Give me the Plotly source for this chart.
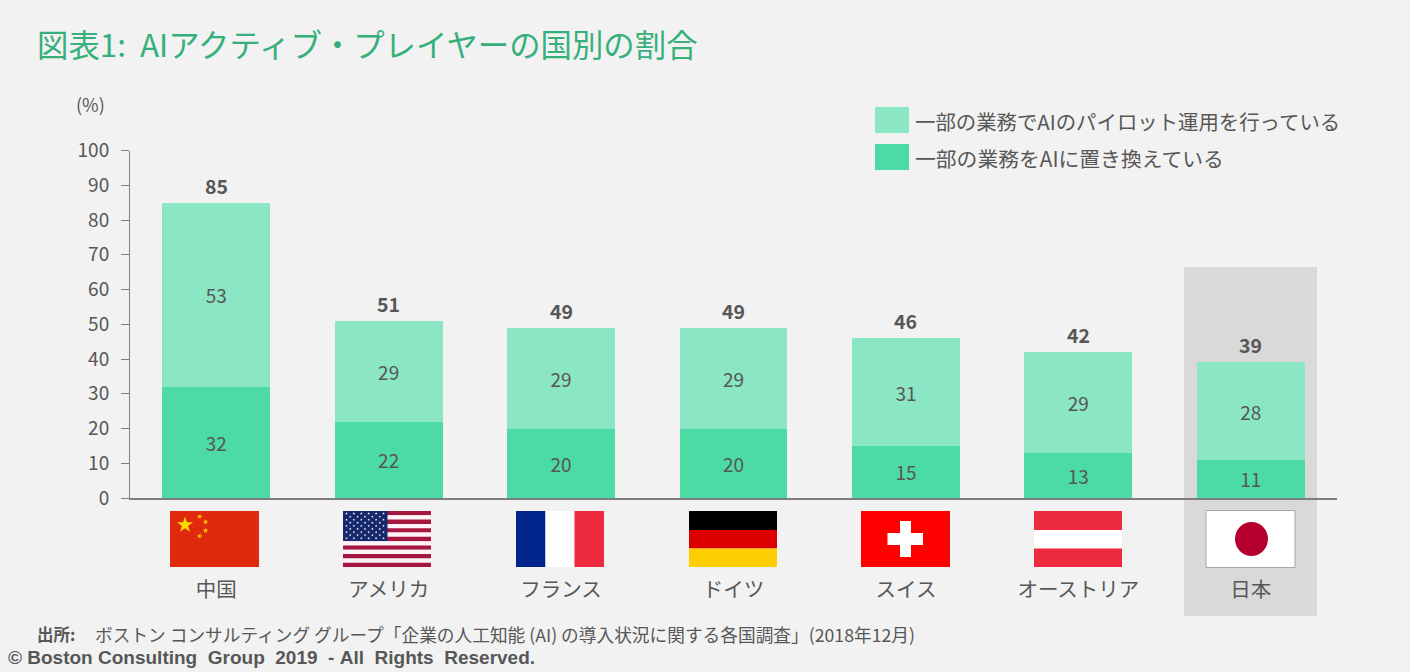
import math
import plotly.graph_objects as go

W, H = 1410, 672
countries = ["中国", "アメリカ", "フランス", "ドイツ", "スイス", "オーストリア", "日本"]
replaced = [32, 22, 20, 20, 15, 13, 11]
pilot = [53, 29, 29, 29, 31, 29, 28]
totals = [85, 51, 49, 49, 46, 42, 39]
y_ticks = [0, 10, 20, 30, 40, 50, 60, 70, 80, 90, 100]
name_pilot = "一部の業務でAIのパイロット運用を行っている"
name_replaced = "一部の業務をAIに置き換えている"
title_text = "図表1:  AIアクティブ・プレイヤーの国別の割合"
source_label = "出所:"
source_text = "ボストン コンサルティング グループ「企業の人工知能 (AI) の導入状況に関する各国調査」(2018年12月)"
copyright_text = "© Boston Consulting\u00a0 Group\u00a0 2019\u00a0 -\u00a0All\u00a0 Rights\u00a0 Reserved."

BG = "#F2F2F2"
DARK = "#4CDAA5"
LIGHT = "#8AE6C3"
TEXT = "#575757"
AXIS = "#7F7F7F"
FONT = "Noto Sans CJK JP"

# plot-area placement, in page pixels
L, R, T, B = 130.0, 1337.0, 150.5, 498.0


def X(px):
    return px / W


def Y(py):
    return 1 - py / H


def rect(x0, y0, x1, y1, color, line=None, layer="above"):
    return dict(type="rect", xref="paper", yref="paper", x0=X(x0), x1=X(x1), y0=Y(y0), y1=Y(y1),
                fillcolor=color, layer=layer,
                line=dict(color=line, width=1) if line else dict(width=0))


def star(cx, cy, r, color, rot=0.0):
    pts = []
    for i in range(10):
        rr = r if i % 2 == 0 else r * 0.382
        a = math.radians(-90 + 36 * i + rot)
        pts.append((X(cx + rr * math.cos(a)), Y(cy + rr * math.sin(a))))
    path = "M" + "L".join(f"{a:.5f},{b:.5f}" for a, b in pts) + "Z"
    return dict(type="path", xref="paper", yref="paper", path=path, fillcolor=color, line=dict(width=0), layer="above")


shapes = [rect(1184, 267, 1317, 616, "#D9D9D9", layer="below")]

# China
shapes.append(rect(170, 511, 259, 567, "#E02A0E"))
shapes.append(star(185, 525, 8.5, "#FFD800"))
for cx, cy, rot in [(199.5, 516.5, 20), (205.5, 522, 45), (205.5, 530.5, 0), (199.5, 536, 20)]:
    shapes.append(star(cx, cy, 3, "#FFC800", rot))

# USA
for i in range(13):
    y0 = 511 + i * 56 / 13
    shapes.append(rect(343, y0, 431, y0 + 56 / 13, "#A6173F" if i % 2 == 0 else "#FDF2F6"))
shapes.append(rect(343, 511, 387.5, 541, "#14286B"))
for row in range(9):
    n = 6 if row % 2 == 0 else 5
    for c in range(n):
        sx = 346.5 + c * 7.4 + (0 if row % 2 == 0 else 3.7)
        sy = 513.5 + row * 3.1
        shapes.append(star(sx, sy, 1.4, "#FFFFFF"))

# France
shapes.append(rect(516, 511, 545.5, 567, "#00268E"))
shapes.append(rect(545.5, 511, 574.5, 567, "#FFFFFF"))
shapes.append(rect(574.5, 511, 604, 567, "#EE2A3E"))

# Germany
shapes.append(rect(689, 511, 777, 530, "#000000"))
shapes.append(rect(689, 530, 777, 548.5, "#DD0000"))
shapes.append(rect(689, 548.5, 777, 567, "#FFCE00"))

# Switzerland
shapes.append(rect(861, 511, 950, 567, "#FF0000"))
shapes.append(rect(900, 521, 911, 557, "#FFFFFF"))
shapes.append(rect(887.5, 533, 923, 545, "#FFFFFF"))

# Austria
shapes.append(rect(1034, 511, 1122, 530, "#EE2A3E"))
shapes.append(rect(1034, 530, 1122, 548.5, "#FFFFFF"))
shapes.append(rect(1034, 548.5, 1122, 567, "#EE2A3E"))

# Japan
shapes.append(rect(1206, 510.5, 1295, 567.5, "#FFFFFF", line="#A6A6A6"))
shapes.append(dict(type="circle", xref="paper", yref="paper", x0=X(1235), x1=X(1268), y0=Y(522), y1=Y(556),
                   fillcolor="#B5002F", line=dict(width=0), layer="above"))

# legend swatches
shapes.append(rect(875, 107, 909, 133, LIGHT))
shapes.append(rect(875, 144, 909, 170, DARK))

fig = go.Figure()
fig.add_bar(x=countries, y=replaced, name=name_replaced, marker=dict(color=DARK, line=dict(width=0)),
            text=replaced, textposition="inside", insidetextanchor="middle", constraintext="none",
            textangle=0, textfont=dict(size=19, color=TEXT, family=FONT))
fig.add_bar(x=countries, y=pilot, name=name_pilot, marker=dict(color=LIGHT, line=dict(width=0)),
            text=pilot, textposition="inside", insidetextanchor="middle", constraintext="none",
            textangle=0, textfont=dict(size=19, color=TEXT, family=FONT))


def note(x, y, text, size, color=TEXT, family=FONT):
    return dict(xref="paper", yref="paper", x=X(x - 2), y=Y(y), text=text, showarrow=False, xanchor="left",
                yanchor="middle", align="left", font=dict(size=size, color=color, family=family))


annotations = [
    note(37, 43, title_text, 31.4, "#36B07A"),
    note(76, 104, "(%)", 18),
    note(915, 121, name_pilot, 20.4),
    note(915, 158, name_replaced, 20.8),
    note(37, 634, f"<b>{source_label}</b>", 16.5),
    note(95, 634, source_text, 17.7),
    note(8, 657, f"<b>{copyright_text}</b>", 19, family="Liberation Sans"),
]
for c, t in zip(countries, totals):
    annotations.append(dict(xref="x", yref="y", x=c, y=t, text=f"<b>{t}</b>", showarrow=False, yanchor="bottom",
                            yshift=1, font=dict(size=19.5, color=TEXT, family=FONT)))

fig.update_layout(
    width=W, height=H, autosize=False, margin=dict(l=0, r=0, t=0, b=0),
    paper_bgcolor=BG, plot_bgcolor="rgba(0,0,0,0)",
    barmode="stack", bargap=0.374, showlegend=False,
    font=dict(family=FONT, color=TEXT),
    shapes=shapes, annotations=annotations,
    xaxis=dict(domain=[X(L), X(R)], anchor="y", type="category", categoryorder="array", categoryarray=countries,
               automargin=False, showgrid=False, zeroline=False, showline=True, linecolor=AXIS, linewidth=1.5,
               ticks="", tickfont=dict(size=20.5, color=TEXT, family=FONT), ticklabelstandoff=73),
    yaxis=dict(domain=[Y(B), Y(T)], anchor="x", range=[0, 100], tickvals=y_ticks, automargin=False, showgrid=False,
               zeroline=False, showline=True, linecolor=AXIS, linewidth=1, ticks="outside", ticklen=8, tickcolor=AXIS,
               tickfont=dict(size=19, color=TEXT, family=FONT), ticklabelstandoff=8),
)

fig.write_html("out.html", config=dict(displayModeBar=False),
               post_script="document.body.style.margin='0';document.body.style.overflow='hidden';")
